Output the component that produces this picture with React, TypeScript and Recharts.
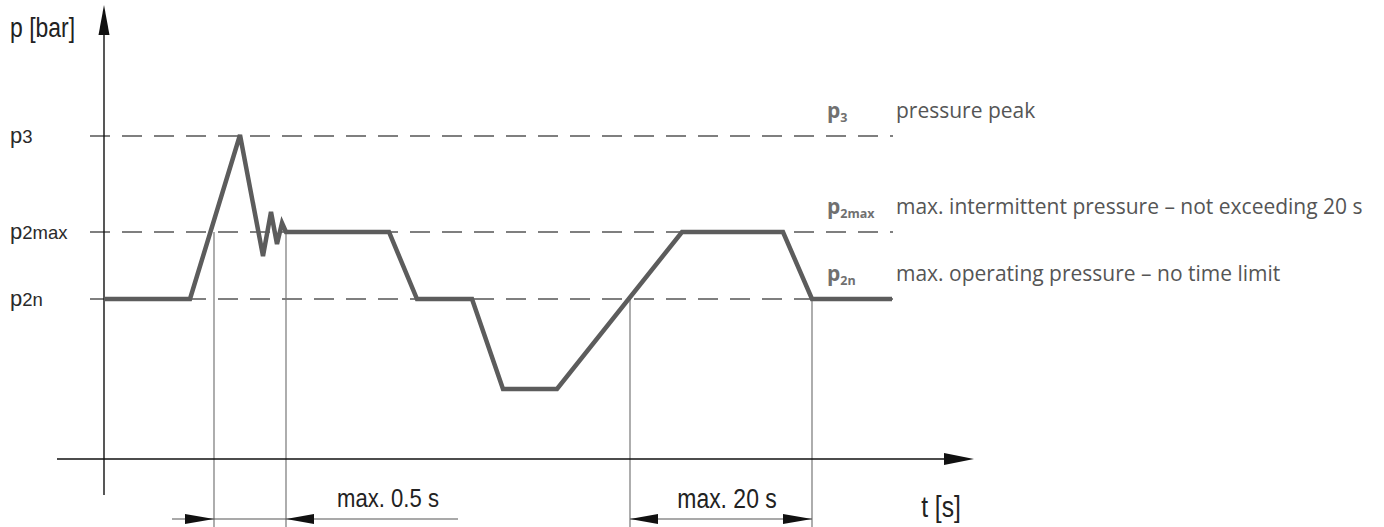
import React from 'react';
import { ComposedChart, Line, Scatter, XAxis, YAxis, ReferenceLine, ReferenceDot } from 'recharts';

// pressure curve (t and p in chart units)
const curveT = [0, 8.6, 13.6, 15.9, 16.7, 17.3, 17.8, 18.2, 28.5, 31.3, 36.8, 39.9, 45.3, 57.8, 67.9, 70.8, 78.8];
const curveP = [16, 16, 32.4, 20.3, 24.7, 21.5, 23.6, 22.7, 22.7, 16, 16, 7, 7, 22.7, 22.7, 16, 16];

// dashed pressure levels
const levelP = [32.3, 22.7, 16.0];
const levelSub = ['3', '2max', '2n'];
const levelDesc = ['pressure peak', 'max. intermittent pressure – not exceeding 20 s', 'max. operating pressure – no time limit'];
const levelStart = -1.4;
const levelEnd = 78.9;

// vertical guide lines down from the curve
const guideT = [11.0, 18.2, 52.6, 70.8];
const guideTop = [22.7, 22.7, 16, 16];
const guideBottom = -6.8;

// axes
const axisYFrom = -3.6;
const axisYTip = 45.4;
const axisXFrom = -4.7;
const axisXTip = 87.0;

// dimension lines
const dimP = -6.0;
const dimFrom = [6.8, 52.6];
const dimTo = [35.4, 70.8];

// arrow heads
const arrowT = [0, 87.0, 11.0, 18.2, 52.6, 70.8];
const arrowP = [45.4, 0, -6.0, -6.0, -6.0, -6.0];
const arrowDir = ['up', 'right', 'right', 'left', 'left', 'right'];

// free notes
const noteText = ['p [bar]', 'max. 0.5 s', 'max. 20 s', 't [s]'];
const noteT = [-9.4, 28.4, 62.3, 83.7];
const noteP = [42.2, -4.8, -4.9, -5.8];
const noteAnchor = ['start', 'middle', 'middle', 'middle'];
const noteSize = [27, 26, 27, 29];

const curve = curveT.map((t, i) => ({ t, p: curveP[i] }));
const arrows = arrowT.map((t, i) => ({ t, p: arrowP[i], dir: arrowDir[i] }));

const ArrowHead = (props: any) => {
  const { cx, cy, payload } = props;
  if (cx == null || cy == null) return null;
  const dir = payload.dir;
  let pts = '';
  if (dir === 'up') pts = `${cx},${cy} ${cx - 5.5},${cy + 30} ${cx + 5.5},${cy + 30}`;
  else if (dir === 'right' && payload.p === 0) pts = `${cx},${cy} ${cx - 30},${cy - 6} ${cx - 30},${cy + 6}`;
  else if (dir === 'right') pts = `${cx},${cy} ${cx - 29},${cy - 5} ${cx - 29},${cy + 5}`;
  else pts = `${cx},${cy} ${cx + 28},${cy - 5} ${cx + 28},${cy + 5}`;
  return <polygon points={pts} fill="#111" />;
};

const levelLabel = (i: number) => (props: any) => {
  const vb = props.viewBox || {};
  const x0 = vb.x;
  const x1 = vb.x + vb.width;
  const y = vb.y;
  return (
    <g>
      <text x={x0 - 80} y={y + 7} fontFamily="'Liberation Sans', Arial, sans-serif" fontSize={22} fill="#2a2a2a">
        p<tspan fontSize={18.5}>{levelSub[i]}</tspan>
      </text>
      <text x={x1 - 66} y={y - 18} fontFamily="'Open Sans', sans-serif" fontWeight="bold" fontSize={21} fill="#707070">
        p<tspan fontSize={12.5} dy={4}>{levelSub[i]}</tspan>
      </text>
      <text x={x1 + 3} y={y - 18} fontFamily="'Open Sans', sans-serif" fontSize={21} fill="#555">
        {levelDesc[i]}
      </text>
    </g>
  );
};

// condensed look: squeeze the text horizontally
const noteLabel = (i: number) => (props: any) => {
  const vb = props.viewBox || {};
  const cx = vb.x + (vb.width || 0) / 2;
  const cy = vb.y + (vb.height || 0) / 2;
  return (
    <text
      transform={`translate(${cx},${cy}) scale(0.85,1)`}
      textAnchor={noteAnchor[i] as any}
      fontFamily="'Liberation Sans', Arial, sans-serif"
      fontSize={noteSize[i]}
      fill="#222"
    >
      {noteText[i]}
    </text>
  );
};

export default function App() {
  return (
    <div style={{ position: 'absolute', left: 0, top: 0, background: '#fff' }}>
      <ComposedChart width={1384} height={527} margin={{ top: 0, right: 0, bottom: 0, left: 0 }}>
        <XAxis type="number" dataKey="t" domain={[-10.4, 128]} hide allowDataOverflow />
        <YAxis type="number" domain={[-6.8, 45.9]} hide allowDataOverflow />

        {levelP.map((p, i) => (
          <ReferenceLine
            key={`lvl${i}`}
            segment={[{ x: levelStart, y: p }, { x: levelEnd, y: p }]}
            stroke="#555"
            strokeWidth={1.3}
            strokeDasharray="20 12"
            ifOverflow="visible"
            label={levelLabel(i)}
          />
        ))}

        {guideT.map((t, i) => (
          <ReferenceLine
            key={`g${i}`}
            segment={[{ x: t, y: guideTop[i] }, { x: t, y: guideBottom }]}
            stroke="#777"
            strokeWidth={1.2}
            ifOverflow="visible"
          />
        ))}

        <ReferenceLine segment={[{ x: 0, y: axisYFrom }, { x: 0, y: axisYTip - 2 }]} stroke="#111" strokeWidth={1.4} ifOverflow="visible" />
        <ReferenceLine segment={[{ x: axisXFrom, y: 0 }, { x: axisXTip - 2, y: 0 }]} stroke="#111" strokeWidth={1.4} ifOverflow="visible" />

        {dimFrom.map((t, i) => (
          <ReferenceLine
            key={`d${i}`}
            segment={[{ x: t, y: dimP }, { x: dimTo[i], y: dimP }]}
            stroke="#555"
            strokeWidth={1.2}
            ifOverflow="visible"
          />
        ))}

        {noteText.map((_, i) => (
          <ReferenceDot key={`n${i}`} x={noteT[i]} y={noteP[i]} r={1} fill="none" stroke="none" ifOverflow="visible" label={noteLabel(i)} />
        ))}

        <Line
          data={curve}
          dataKey="p"
          type="linear"
          stroke="#5c5c5c"
          strokeWidth={4.5}
          strokeLinejoin="miter"
          dot={false}
          activeDot={false}
          isAnimationActive={false}
        />
        <Scatter data={arrows} dataKey="p" shape={ArrowHead} isAnimationActive={false} />
      </ComposedChart>
    </div>
  );
}
